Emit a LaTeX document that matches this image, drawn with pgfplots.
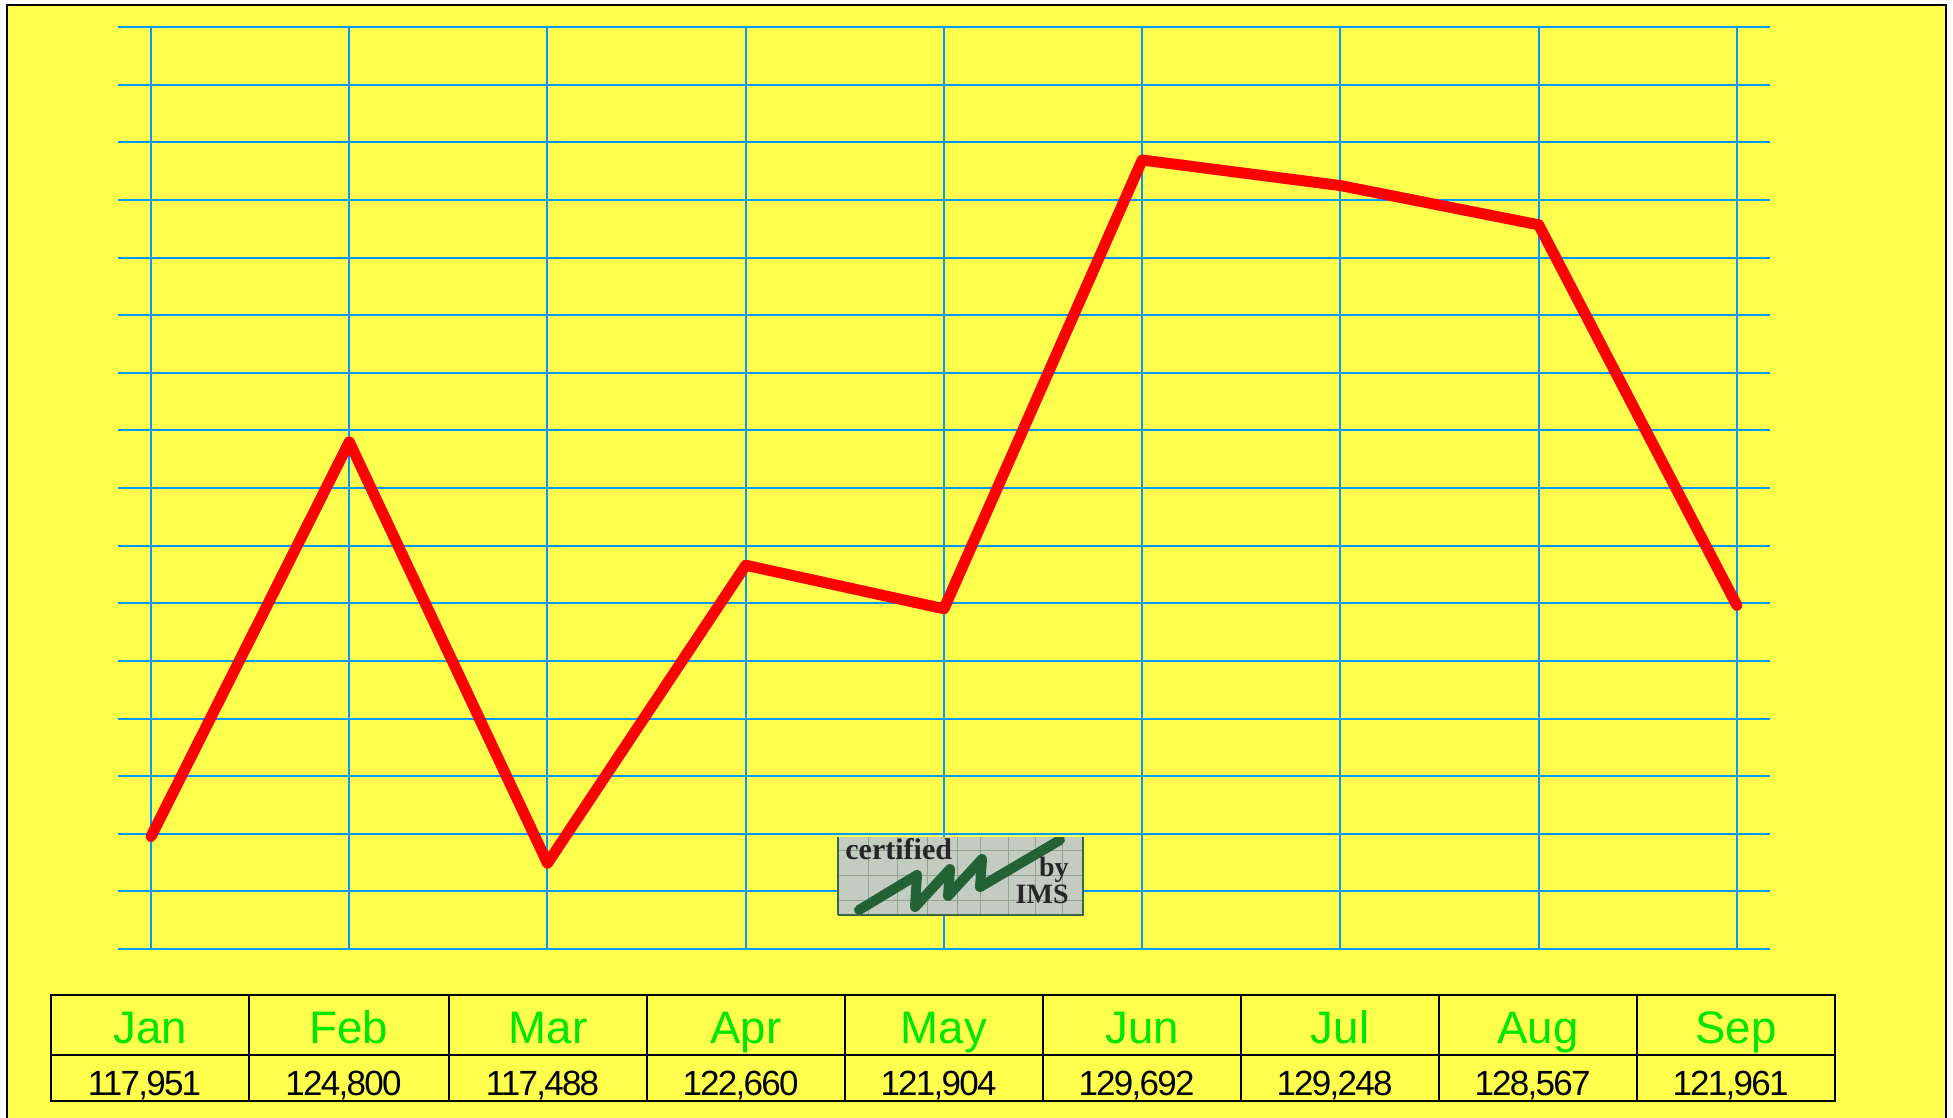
\documentclass[border=0pt]{standalone}
\usepackage{fontspec}
\setmainfont{Liberation Sans}
\newfontfamily\logofont{Liberation Serif}[Scale=1]
\usepackage{pgfplots}
\pgfplotsset{compat=1.18}
\definecolor{bgy}{RGB}{255,255,77}
\definecolor{gridb}{RGB}{0,153,255}
\definecolor{mongreen}{RGB}{0,230,0}
\definecolor{logobg}{RGB}{196,204,194}
\definecolor{logogrid}{RGB}{140,165,140}
\definecolor{logogreen}{RGB}{34,98,52}
\begin{document}
\begin{tikzpicture}[x=0.5pt,y=-0.5pt]
\path[use as bounding box,fill=white] (0,0) rectangle (1953,1118);
\fill[bgy] (7,5) rectangle (1946,1118);
\draw[black,line width=1pt] (7,1118) -- (7,5) -- (1946,5) -- (1946,1118);
\coordinate (ap) at (118,949);
\begin{axis}[
  at={(ap)}, anchor=south west, scale only axis,
  width=826pt, height=461pt,
  xmin=-0.1665, xmax=8.167, ymin=116000, ymax=132000,
  xtick={0,1,...,8}, ytick={116000,117000,...,132000},
  xticklabels={}, yticklabels={},
  scaled y ticks=false, scaled x ticks=false,
  major tick length=0pt,
  axis line style={draw=none},
  grid=major,
  grid style={draw=gridb,line width=1pt},
  clip=false,
]
\addplot[red,line width=5.5pt,line join=round,line cap=round,mark=none] coordinates {
 (0,117951) (1,124800) (2,117488) (3,122660) (4,121904)
 (5,129692) (6,129248) (7,128567) (8,121961)};
\end{axis}
% logo
\fill[logobg] (837,837) rectangle (1083,915);
\begin{scope}
\clip (837,837) rectangle (1083,915);
\foreach \x in {868,897,927,957,980,1008,1035,1062}
  \draw[logogrid,line width=0.5pt] (\x,837) -- (\x,915);
\foreach \y in {850,875,900}
  \draw[logogrid,line width=0.5pt] (837,\y) -- (1083,\y);
\draw[logogreen,line width=5pt,line join=round,line cap=round]
 (859,910) -- (917,875) -- (915,907) -- (950,869) -- (948,896) -- (982,859) -- (980,887) -- (1060,840);
\end{scope}
\draw[logogreen!80!gray,line width=1pt] (837.5,915) -- (837.5,837) (1082.5,837) -- (1082.5,915) -- (837.5,915);
\node[anchor=base west,inner sep=0pt,font=\logofont\bfseries\fontsize{15}{15}\selectfont,text=black!85] at (845,859) {certified};
\node[anchor=base east,inner sep=0pt,font=\logofont\bfseries\fontsize{14}{14}\selectfont,text=black!85] at (1069,876) {by};
\node[anchor=base east,inner sep=0pt,font=\logofont\bfseries\fontsize{14}{14}\selectfont,text=black!85] at (1069,903) {IMS};
% table
\draw[black,line width=0.75pt] (51,995) rectangle (1835,1101);
\draw[black,line width=0.75pt] (51,1055) -- (1835,1055);
\foreach \x in {249,449,647,845,1043,1241,1439,1637}
  \draw[black,line width=0.75pt] (\x,995) -- (\x,1101);
\foreach \c/\m/\v in {150/Jan/117{,}951,349/Feb/124{,}800,548/Mar/117{,}488,746/Apr/122{,}660,944/May/121{,}904,1142/Jun/129{,}692,1340/Jul/129{,}248,1538/Aug/128{,}567,1736/Sep/121{,}961}{
  \node[anchor=base,inner sep=0pt,text=mongreen,font=\fontsize{22.8}{23}\selectfont] at (\c,1043) {\m};
  \node[anchor=base,inner sep=0pt,text=black,font=\fontsize{17.5}{17.5}\selectfont\addfontfeature{LetterSpace=-5}] at ({\c-5.5},1095) {\v};
}
\end{tikzpicture}
\end{document}
